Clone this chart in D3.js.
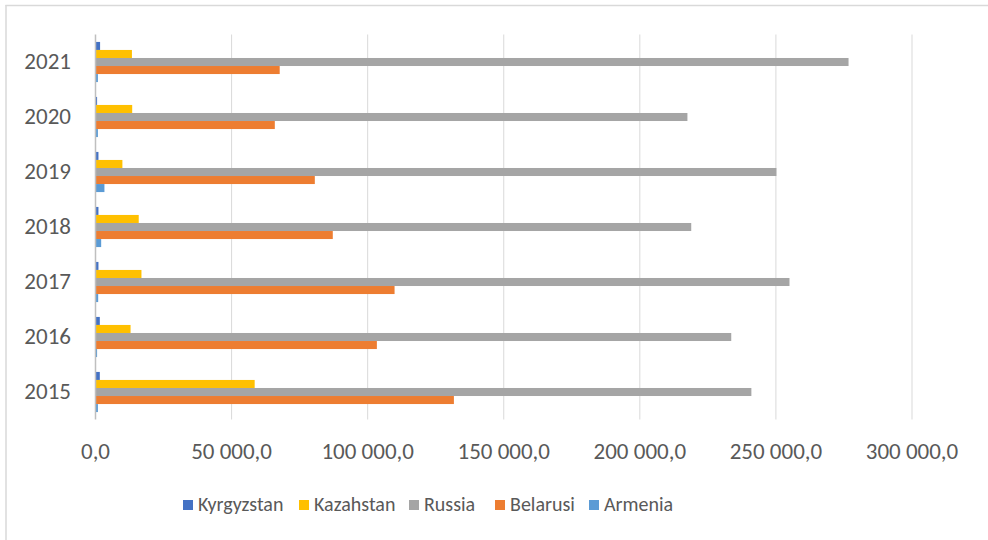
<!DOCTYPE html>
<html><head><meta charset="utf-8">
<script src="https://cdn.jsdelivr.net/npm/d3@7"></script>
<style>
html,body{margin:0;padding:0;background:#fff;}
svg{display:block;font-family:Carlito,"Liberation Sans Narrow","Open Sans",sans-serif;}
</style></head><body>
<svg id="c" width="988" height="540"></svg>
<script>
const years = ["2021","2020","2019","2018","2017","2016","2015"];
const seriesNames = ["Kyrgyzstan","Kazahstan","Russia","Belarusi","Armenia"];
const seriesColors = ["#4472C4","#FFC000","#A5A5A5","#ED7D31","#5B9BD5"];
const kyrgyzstan = [1500, 400, 900, 900, 900, 1400, 1400];
const kazahstan  = [13200, 13300, 9700, 15700, 16700, 12700, 58300];
const russia     = [276500, 217300, 250000, 218700, 254800, 233400, 240800];
const belarusi   = [67500, 65700, 80400, 87000, 109700, 103200, 131500];
const armenia    = [700, 700, 3100, 1900, 800, 400, 700];
const xTicks = [0, 50000, 100000, 150000, 200000, 250000, 300000];

const seriesValues = [kyrgyzstan, kazahstan, russia, belarusi, armenia];
const svg = d3.select("#c");

// frame
svg.append("line").attr("x1",5.5).attr("x2",988).attr("y1",5.5).attr("y2",5.5).attr("stroke","#D9D9D9").attr("stroke-width",1.5);
svg.append("line").attr("x1",6).attr("x2",6).attr("y1",5).attr("y2",540).attr("stroke","#D9D9D9").attr("stroke-width",1.5);

const x = d3.scaleLinear().domain([0,300000]).range([95.5,912]);
const y = d3.scaleBand().domain(years).range([34.5,419.5]).paddingInner(0.27).paddingOuter(0.135);
const ySub = d3.scaleBand().domain(seriesNames).range([0,y.bandwidth()]);

const loc = d3.formatLocale({decimal:",", thousands:"\u00a0", grouping:[3], currency:["",""]});
const fmt = loc.format(",.1f");

// gridlines
svg.append("g").selectAll("line").data(xTicks.slice(1)).join("line")
  .attr("x1",d=>x(d)).attr("x2",d=>x(d)).attr("y1",34.5).attr("y2",419.5)
  .attr("stroke","#D9D9D9").attr("stroke-width",1);

// bars
const g = svg.append("g");
seriesNames.forEach((s,i)=>{
  g.append("g").selectAll("rect").data(years).join("rect")
    .attr("x",x(0)+0.5)
    .attr("y",(d)=>y(d)+ySub(s))
    .attr("width",(d,j)=>Math.max(0,x(seriesValues[i][j])-x(0)))
    .attr("height",ySub.bandwidth())
    .attr("fill",seriesColors[i]);
});

// zero axis line
svg.append("line").attr("x1",x(0)).attr("x2",x(0)).attr("y1",34.5).attr("y2",419.5)
  .attr("stroke","#BFBFBF").attr("stroke-width",1.5);

// x tick labels
svg.append("g").selectAll("text").data(xTicks).join("text")
  .attr("x",d=>x(d)).attr("y",454).attr("text-anchor","middle").attr("dominant-baseline","middle")
  .attr("fill","#595959").attr("font-size",23).text(d=>fmt(d));

// y labels
svg.append("g").selectAll("text").data(years).join("text")
  .attr("x",71).attr("y",d=>y(d)+y.bandwidth()/2+2).attr("text-anchor","end").attr("dominant-baseline","middle")
  .attr("fill","#595959").attr("font-size",23).text(d=>d);

// legend
const legendX = [183, 299, 409, 495, 589];
const lg = svg.append("g");
seriesNames.forEach((s,i)=>{
  lg.append("rect").attr("x",legendX[i]).attr("y",500).attr("width",10).attr("height",10).attr("fill",seriesColors[i]);
  lg.append("text").attr("x",legendX[i]+15).attr("y",506).attr("dominant-baseline","middle")
    .attr("fill","#595959").attr("font-size",20).text(s);
});
</script>
</body></html>
